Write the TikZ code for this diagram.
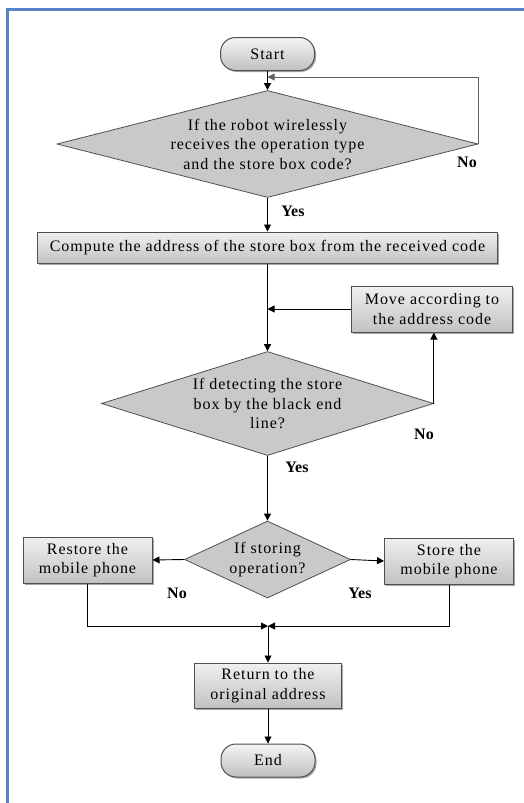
\documentclass[tikz,border=0pt]{standalone}
\usepackage{fontspec}
\setmainfont{Liberation Serif}
\newfontfamily\diagfont[LetterSpace=6]{Liberation Serif}
\usetikzlibrary{shapes.geometric,arrows.meta,shadows}
\definecolor{frameblue}{RGB}{84,130,196}
\definecolor{edgegray}{RGB}{80,80,80}
\begin{document}
\begin{tikzpicture}[x=1pt,y=-1pt,
  txt/.style={font=\diagfont\fontsize{16}{19.5}\selectfont, align=center},
  lbl/.style={font=\fontsize{16}{18}\selectfont\bfseries},
  shad/.style={drop shadow={shadow xshift=1.5pt,shadow yshift=-1.5pt,opacity=0.35,fill=black}},
  procbox/.style={txt, draw=edgegray, line width=1pt, rectangle, top color=white!94!black, bottom color=white!76!black, inner sep=0pt, shad},
  termbox/.style={txt, draw=edgegray, line width=1pt, rectangle, rounded corners=15pt, top color=white!96!black, bottom color=white!75!black, inner sep=0pt, minimum width=94pt, minimum height=33pt, shad},
  decbox/.style={txt, draw=edgegray, line width=0.8pt, diamond, fill=white!79!black, inner sep=0pt},
  arr/.style={draw=black, line width=0.9pt, -{Triangle[length=7pt,width=7pt]}},
  ln/.style={draw=black, line width=0.9pt}
]
\useasboundingbox (0,0) rectangle (524,803);
\fill[white] (0,0) rectangle (524,803);
% frame
\draw[frameblue, line width=3pt] (7,803) -- (7,9) -- (524,9);

% nodes
\node[termbox] (start) at (267.5,54) {Start};
\node[decbox, minimum width=421pt, minimum height=107pt, aspect=3.9] (d1) at (267.5,144) {If the robot wirelessly\\receives the operation type\\and the store box code?};
\node[procbox, minimum width=460pt, minimum height=31pt] (comp) at (267.5,247.5) {Compute the address of the store box from the received code};
\node[procbox, minimum width=161pt, minimum height=46pt] (move) at (432,309) {Move according to\\the address code};
\node[decbox, minimum width=332pt, minimum height=104pt, aspect=3.2] (d2) at (267.5,403.5) {If detecting the store\\box by the black end\\line?};
\node[decbox, minimum width=166pt, minimum height=77pt, aspect=2.15] (d3) at (267.5,559.5) {If storing\\operation?};
\node[procbox, minimum width=129pt, minimum height=46pt] (rest) at (87.5,560) {Restore the\\mobile phone};
\node[procbox, minimum width=129pt, minimum height=46pt] (store) at (449,561) {Store the\\mobile phone};
\node[procbox, minimum width=147pt, minimum height=45pt] (ret) at (268,685.5) {Return to the\\original address};
\node[termbox] (end) at (268,760.5) {End};

% labels
\node[lbl] (l1) at (467,162) {No};
\node[lbl] (l2) at (293,211) {Yes};
\node[lbl] (l3) at (424,434) {No};
\node[lbl] (l4) at (297,467) {Yes};
\node[lbl] (l5) at (177,593) {No};
\node[lbl] (l6) at (360,593) {Yes};

% connectors
\coordinate (lp) at (267.5,77);
\coordinate (mg) at (268,626);
\draw[arr] (start.south) -- (d1.north);
\draw[line width=0.9pt, draw=gray!75!black, -{Triangle[length=7pt,width=7pt]}] (d1.east) |- (lp);
\draw[arr] (d1.south) -- (comp.north);
\draw[arr] (comp.south) -- (d2.north);
\draw[arr] (move.west) -- (move.west -| comp.south);
\draw[arr] (d2.east) -- (d2.east |- move.south);
\draw[arr] (d2.south) -- (d3.north);
\draw[arr] (d3.west) -- (rest.east);
\draw[arr] (d3.east) -- (store.west);
\draw[arr] (rest.south) |- (mg);
\draw[arr] (store.south) |- (mg);
\draw[arr] (mg) -- (ret.north);
\draw[arr] (ret.south) -- (end.north);
\end{tikzpicture}
\end{document}
